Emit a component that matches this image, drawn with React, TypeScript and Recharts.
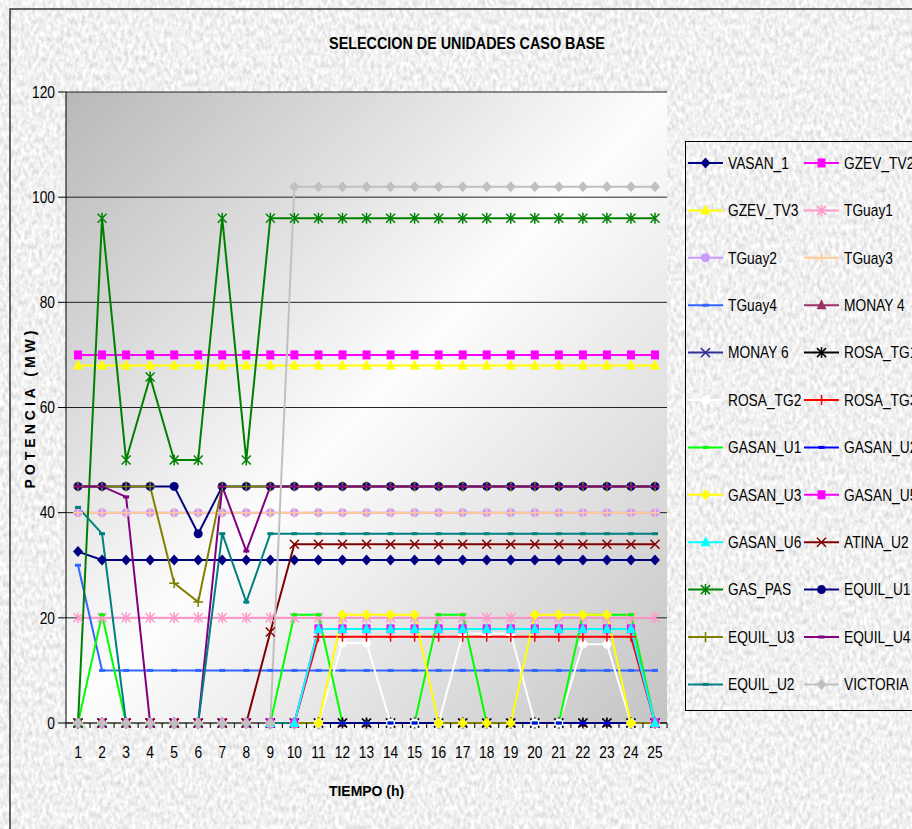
import { LineChart, Line, XAxis, YAxis, CartesianGrid, Legend } from "recharts";

const FONT = "'Liberation Sans', Arial, sans-serif";
// horizontal squeeze that gives Liberation Sans a narrow cut
const NARROW = 0.86;

// hour of the day
const HOURS = [
  1, 2, 3, 4, 5, 6, 7, 8, 9, 10, 11, 12, 13, 14, 15, 16, 17, 18, 19, 20, 21, 22,
  23, 24, 25,
];

// dispatched power per unit, MW
const VASAN_1 = [32.6, 31, 31, 31, 31, 31, 31, 31, 31, 31, 31, 31, 31, 31, 31, 31, 31, 31, 31, 31, 31, 31, 31, 31, 31];
const GZEV_TV2 = [70, 70, 70, 70, 70, 70, 70, 70, 70, 70, 70, 70, 70, 70, 70, 70, 70, 70, 70, 70, 70, 70, 70, 70, 70];
const GZEV_TV3 = [68, 68, 68, 68, 68, 68, 68, 68, 68, 68, 68, 68, 68, 68, 68, 68, 68, 68, 68, 68, 68, 68, 68, 68, 68];
const TGUAY1 = [20, 20, 20, 20, 20, 20, 20, 20, 20, 20, 20, 20, 20, 20, 20, 20, 20, 20, 20, 20, 20, 20, 20, 20, 20];
const TGUAY2 = [40, 40, 40, 40, 40, 40, 40, 40, 40, 40, 40, 40, 40, 40, 40, 40, 40, 40, 40, 40, 40, 40, 40, 40, 40];
const TGUAY3 = [40, 40, 40, 40, 40, 40, 40, 40, 40, 40, 40, 40, 40, 40, 40, 40, 40, 40, 40, 40, 40, 40, 40, 40, 40];
const TGUAY4 = [30, 10, 10, 10, 10, 10, 10, 10, 10, 10, 10, 10, 10, 10, 10, 10, 10, 10, 10, 10, 10, 10, 10, 10, 10];
const MONAY_4 = [0, 0, 0, 0, 0, 0, 0, 0, 0, 0, 0, 0, 0, 0, 0, 0, 0, 0, 0, 0, 0, 0, 0, 0, 0];
const MONAY_6 = [0, 0, 0, 0, 0, 0, 0, 0, 0, 0, 0, 0, 0, 0, 0, 0, 0, 0, 0, 0, 0, 0, 0, 0, 0];
const ROSA_TG1 = [0, 0, 0, 0, 0, 0, 0, 0, 0, 0, 0, 0, 0, 0, 0, 0, 0, 0, 0, 0, 0, 0, 0, 0, 0];
const ROSA_TG2 = [0, 0, 0, 0, 0, 0, 0, 0, 0, 0, 0, 15.2, 15.2, 0, 0, 0, 17, 17, 17, 0, 0, 15, 15, 0, 0];
const ROSA_TG3 = [0, 0, 0, 0, 0, 0, 0, 0, 0, 0, 16.4, 16.4, 16.4, 16.4, 16.4, 16.4, 16.4, 16.4, 16.4, 16.4, 16.4, 16.4, 16.4, 16.4, 0];
const GASAN_U1 = [0, 20.6, 0, 0, 0, 0, 0, 0, 0, 20.6, 20.6, 0, 0, 0, 0, 20.6, 20.6, 0, 0, 0, 0, 20.6, 20.6, 20.6, 0];
const GASAN_U2 = [0, 0, 0, 0, 0, 0, 0, 0, 0, 0, 0, 0, 0, 0, 0, 0, 0, 0, 0, 0, 0, 0, 0, 0, 0];
const GASAN_U3 = [0, 0, 0, 0, 0, 0, 0, 0, 0, 0, 0, 20.6, 20.6, 20.6, 20.6, 0, 0, 0, 0, 20.6, 20.6, 20.6, 20.6, 0, 0];
const GASAN_U5 = [0, 0, 0, 0, 0, 0, 0, 0, 0, 0, 17.9, 17.9, 17.9, 17.9, 17.9, 17.9, 17.9, 17.9, 17.9, 17.9, 17.9, 17.9, 17.9, 17.9, 0];
const GASAN_U6 = [0, 0, 0, 0, 0, 0, 0, 0, 0, 0, 17.9, 17.9, 17.9, 17.9, 17.9, 17.9, 17.9, 17.9, 17.9, 17.9, 17.9, 17.9, 17.9, 17.9, 0];
const ATINA_U2 = [0, 0, 0, 0, 0, 0, 0, 0, 17.3, 34, 34, 34, 34, 34, 34, 34, 34, 34, 34, 34, 34, 34, 34, 34, 34];
const GAS_PAS = [0, 96, 50, 65.8, 50, 50, 96, 50, 96, 96, 96, 96, 96, 96, 96, 96, 96, 96, 96, 96, 96, 96, 96, 96, 96];
const EQUIL_U1 = [45, 45, 45, 45, 45, 36, 45, 45, 45, 45, 45, 45, 45, 45, 45, 45, 45, 45, 45, 45, 45, 45, 45, 45, 45];
const EQUIL_U3 = [45, 45, 45, 45, 26.6, 23, 45, 45, 45, 45, 45, 45, 45, 45, 45, 45, 45, 45, 45, 45, 45, 45, 45, 45, 45];
const EQUIL_U4 = [45, 45, 43, 0, 0, 0, 45, 32.7, 45, 45, 45, 45, 45, 45, 45, 45, 45, 45, 45, 45, 45, 45, 45, 45, 45];
const EQUIL_U2 = [41, 36, 0, 0, 0, 0, 36, 23, 36, 36, 36, 36, 36, 36, 36, 36, 36, 36, 36, 36, 36, 36, 36, 36, 36];
const VICTORIA = [0, 0, 0, 0, 0, 0, 0, 0, 0, 102, 102, 102, 102, 102, 102, 102, 102, 102, 102, 102, 102, 102, 102, 102, 102];

const Y_TICKS = [0, 20, 40, 60, 80, 100, 120];

type MarkerKind =
  | "diamond"
  | "square"
  | "triangle"
  | "asterisk"
  | "circle"
  | "plus"
  | "dash"
  | "cross";

interface Series {
  key: string;
  name: string;
  values: number[];
  color: string;
  marker: MarkerKind;
}

const SERIES: Series[] = [
  { key: "VASAN_1", name: "VASAN_1", values: VASAN_1, color: "#000080", marker: "diamond" },
  { key: "GZEV_TV2", name: "GZEV_TV2", values: GZEV_TV2, color: "#ff00ff", marker: "square" },
  { key: "GZEV_TV3", name: "GZEV_TV3", values: GZEV_TV3, color: "#ffff00", marker: "triangle" },
  { key: "TGuay1", name: "TGuay1", values: TGUAY1, color: "#ff99cc", marker: "asterisk" },
  { key: "TGuay2", name: "TGuay2", values: TGUAY2, color: "#cc99ff", marker: "circle" },
  { key: "TGuay3", name: "TGuay3", values: TGUAY3, color: "#ffcc99", marker: "plus" },
  { key: "TGuay4", name: "TGuay4", values: TGUAY4, color: "#3366ff", marker: "dash" },
  { key: "MONAY_4", name: "MONAY 4", values: MONAY_4, color: "#993366", marker: "triangle" },
  { key: "MONAY_6", name: "MONAY 6", values: MONAY_6, color: "#333399", marker: "cross" },
  { key: "ROSA_TG1", name: "ROSA_TG1", values: ROSA_TG1, color: "#000000", marker: "asterisk" },
  { key: "ROSA_TG2", name: "ROSA_TG2", values: ROSA_TG2, color: "#ffffff", marker: "circle" },
  { key: "ROSA_TG3", name: "ROSA_TG3", values: ROSA_TG3, color: "#ff0000", marker: "plus" },
  { key: "GASAN_U1", name: "GASAN_U1", values: GASAN_U1, color: "#00ff00", marker: "dash" },
  { key: "GASAN_U2", name: "GASAN_U2", values: GASAN_U2, color: "#0000ff", marker: "dash" },
  { key: "GASAN_U3", name: "GASAN_U3", values: GASAN_U3, color: "#ffff00", marker: "diamond" },
  { key: "GASAN_U5", name: "GASAN_U5", values: GASAN_U5, color: "#ff00ff", marker: "square" },
  { key: "GASAN_U6", name: "GASAN_U6", values: GASAN_U6, color: "#00ffff", marker: "triangle" },
  { key: "ATINA_U2", name: "ATINA_U2", values: ATINA_U2, color: "#800000", marker: "cross" },
  { key: "GAS_PAS", name: "GAS_PAS", values: GAS_PAS, color: "#008000", marker: "asterisk" },
  { key: "EQUIL_U1", name: "EQUIL_U1", values: EQUIL_U1, color: "#000080", marker: "circle" },
  { key: "EQUIL_U3", name: "EQUIL_U3", values: EQUIL_U3, color: "#808000", marker: "plus" },
  { key: "EQUIL_U4", name: "EQUIL_U4", values: EQUIL_U4, color: "#800080", marker: "dash" },
  { key: "EQUIL_U2", name: "EQUIL_U2", values: EQUIL_U2, color: "#008080", marker: "dash" },
  { key: "VICTORIA", name: "VICTORIA", values: VICTORIA, color: "#c0c0c0", marker: "diamond" },
];

const rows = HOURS.map((hour, i) => {
  const row: Record<string, number> = { hour };
  SERIES.forEach((s) => {
    row[s.key] = s.values[i];
  });
  return row;
});

// text squeezed horizontally around its anchor point
function NarrowText({
  x,
  y,
  scale = NARROW,
  children,
  ...rest
}: {
  x: number;
  y: number;
  scale?: number;
  children: React.ReactNode;
  [k: string]: any;
}) {
  return (
    <text transform={`translate(${x} ${y}) scale(${scale} 1)`} fontFamily={FONT} fill="#000" {...rest}>
      {children}
    </text>
  );
}

function Marker({ kind, x, y, color }: { kind: MarkerKind; x: number; y: number; color: string }) {
  switch (kind) {
    case "diamond":
      return <polygon points={`${x},${y - 5.5} ${x + 5},${y} ${x},${y + 5.5} ${x - 5},${y}`} fill={color} />;
    case "square":
      return <rect x={x - 4} y={y - 4.5} width={8} height={9} fill={color} />;
    case "triangle":
      return <polygon points={`${x},${y - 6} ${x + 5},${y + 4} ${x - 5},${y + 4}`} fill={color} />;
    case "circle":
      return <circle cx={x} cy={y} r={4.5} fill={color} />;
    case "plus":
      return (
        <path d={`M${x - 5},${y}L${x + 5},${y}M${x},${y - 5}L${x},${y + 5}`} stroke={color} strokeWidth={1.5} />
      );
    case "cross":
      return (
        <path
          d={`M${x - 4.5},${y - 4.5}L${x + 4.5},${y + 4.5}M${x + 4.5},${y - 4.5}L${x - 4.5},${y + 4.5}`}
          stroke={color}
          strokeWidth={1.5}
        />
      );
    case "asterisk":
      return (
        <path
          d={`M${x - 4.5},${y - 4.5}L${x + 4.5},${y + 4.5}M${x + 4.5},${y - 4.5}L${x - 4.5},${y + 4.5}M${x},${y - 5.5}L${x},${y + 5.5}`}
          stroke={color}
          strokeWidth={1.5}
        />
      );
    case "dash":
      return <rect x={x - 3} y={y - 1.5} width={6} height={3} fill={color} />;
  }
}

function LegendBox() {
  return (
    <svg width={240} height={570} style={{ display: "block" }}>
      <rect x={0.5} y={0.5} width={239} height={569} fill="none" stroke="#000" />
      {SERIES.map((s, i) => {
        const col = i % 2;
        const row = Math.floor(i / 2);
        const x0 = 3 + col * 116;
        const cy = 22 + row * 47.4;
        return (
          <g key={s.key}>
            <line x1={x0} x2={x0 + 35} y1={cy} y2={cy} stroke={s.color} strokeWidth={2} />
            <Marker kind={s.marker} x={x0 + 17.5} y={cy} color={s.color} />
            <NarrowText x={x0 + 40} y={cy} dy="0.36em" fontSize={16}>
              {s.name}
            </NarrowText>
          </g>
        );
      })}
    </svg>
  );
}

// hour labels with the tick marks set between categories
function HourTick(props: any) {
  const { x, y, payload, index } = props;
  const half = 12;
  return (
    <g>
      <line x1={x - half} x2={x - half} y1={y} y2={y + 5} stroke="#000" />
      {index === HOURS.length - 1 && (
        <line x1={x + half} x2={x + half} y1={y} y2={y + 5} stroke="#000" />
      )}
      <NarrowText x={x} y={y + 35} textAnchor="middle" fontSize={16}>
        {payload.value}
      </NarrowText>
    </g>
  );
}

function PowerTick(props: any) {
  const { x, y, payload } = props;
  return (
    <NarrowText x={x} y={y} dy="0.355em" textAnchor="end" fontSize={16}>
      {payload.value}
    </NarrowText>
  );
}

function YTitle(props: any) {
  const { viewBox } = props;
  const cx = 30;
  const cy = viewBox.y + viewBox.height / 2;
  return (
    <text
      x={cx}
      y={cy}
      transform={`rotate(-90 ${cx} ${cy})`}
      textAnchor="middle"
      dominantBaseline="central"
      fontSize={14}
      fontWeight="bold"
      letterSpacing={4}
      fontFamily={FONT}
      fill="#000"
    >
      POTENCIA (MW)
    </text>
  );
}

function XTitle(props: any) {
  const { viewBox } = props;
  return (
    <NarrowText
      x={viewBox.x + viewBox.width / 2}
      y={796}
      scale={0.93}
      textAnchor="middle"
      fontSize={15}
      fontWeight="bold"
    >
      TIEMPO (h)
    </NarrowText>
  );
}

export default function App() {
  return (
    <div
      style={{
        position: "absolute",
        left: 0,
        top: 0,
        width: 912,
        height: 829,
        overflow: "hidden",
        fontFamily: FONT,
      }}
    >
      <svg width={912} height={829} style={{ position: "absolute", left: 0, top: 0 }}>
        <defs>
          <filter id="granite" x="0" y="0" width="100%" height="100%">
            <feTurbulence type="fractalNoise" baseFrequency="0.28 0.16" numOctaves={3} seed={7} />
            <feColorMatrix
              type="matrix"
              values="0.55 0 0 0 0.6  0.55 0 0 0 0.6  0.55 0 0 0 0.6  0 0 0 0 1"
            />
          </filter>
        </defs>
        <rect x={0} y={0} width={912} height={829} fill="#e4e4e4" />
        <rect x={0} y={0} width={912} height={829} filter="url(#granite)" />
        <rect x={10} y={9} width={1000} height={1000} fill="none" stroke="#333" strokeWidth={1.5} />
        <NarrowText x={467} y={49} scale={0.845} textAnchor="middle" fontSize={17} fontWeight="bold">
          SELECCION DE UNIDADES CASO BASE
        </NarrowText>
      </svg>
      <div style={{ position: "absolute", left: 0, top: 0 }}>
        <LineChart width={912} height={829} data={rows} margin={{ top: 92, right: 245, bottom: 66, left: 0 }}>
          <defs>
            <linearGradient id="plotBg" x1="0" y1="0" x2="1" y2="1">
              <stop offset="0%" stopColor="#b8b8b8" />
              <stop offset="50%" stopColor="#fdfdfd" />
              <stop offset="100%" stopColor="#c4c4c4" />
            </linearGradient>
          </defs>
          <CartesianGrid vertical={false} stroke="#000" strokeOpacity={0.85} fill="url(#plotBg)" fillOpacity={1} />
          <XAxis
            dataKey="hour"
            height={40}
            padding={{ left: 12, right: 12 }}
            tickSize={0}
            tickMargin={0}
            interval={0}
            axisLine={{ stroke: "#000" }}
            tick={<HourTick />}
            label={<XTitle />}
          />
          <YAxis
            width={66}
            domain={[0, 120]}
            ticks={Y_TICKS}
            interval={0}
            tickSize={8}
            tickMargin={3}
            axisLine={{ stroke: "#000" }}
            tickLine={{ stroke: "#000" }}
            tick={<PowerTick />}
            label={<YTitle />}
          />
          <YAxis
            yAxisId="frame"
            orientation="right"
            width={0}
            domain={[0, 120]}
            tick={false}
            tickLine={false}
            axisLine={{ stroke: "#000" }}
          />
          <Legend
            layout="horizontal"
            verticalAlign="middle"
            align="center"
            wrapperStyle={{ left: 685, top: 141, width: 240, height: 570 }}
            content={() => <LegendBox />}
          />
          {SERIES.map((s) => (
            <Line
              key={s.key}
              type="linear"
              dataKey={s.key}
              name={s.name}
              stroke={s.color}
              strokeWidth={2}
              isAnimationActive={false}
              activeDot={false}
              dot={(p: any) => (
                <Marker key={`${s.key}-${p.index}`} kind={s.marker} x={p.cx} y={p.cy} color={s.color} />
              )}
            />
          ))}
        </LineChart>
      </div>
    </div>
  );
}
